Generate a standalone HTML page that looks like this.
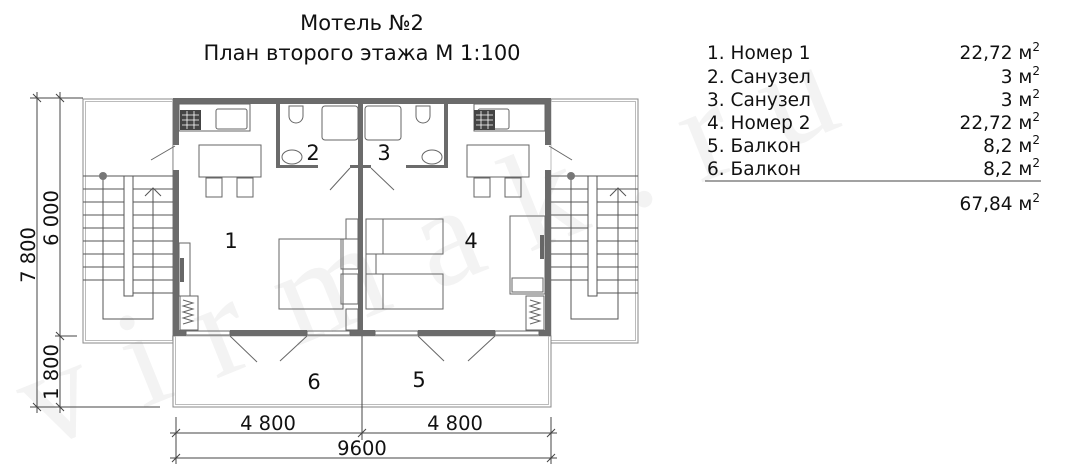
<!DOCTYPE html>
<html><head><meta charset="utf-8"><style>
html,body{margin:0;padding:0;background:#fff;width:1073px;height:476px;overflow:hidden}
svg{display:block}
text{font-family:"DejaVu Sans","Liberation Sans",sans-serif;fill:#111}
</style></head><body>
<svg width="1073" height="476" viewBox="0 0 1073 476" xmlns="http://www.w3.org/2000/svg">
<!-- watermark -->
<text x="40" y="450" font-size="140" style="fill:#f3f3f3;font-family:'Liberation Serif',serif" transform="rotate(-22 40 450)" letter-spacing="40">virmak.ru</text>

<!-- title -->
<text x="362" y="30" font-size="21" text-anchor="middle">Мотель №2</text>
<text x="362" y="60" font-size="21" text-anchor="middle">План второго этажа М 1:100</text>

<!-- table -->
<g font-size="18.5">
<text x="707" y="59">1. Номер 1</text><text x="1040" y="59" text-anchor="end">22,72 м<tspan dy="-8" font-size="12">2</tspan></text>
<text x="707" y="83">2. Санузел</text><text x="1040" y="83" text-anchor="end">3 м<tspan dy="-8" font-size="12">2</tspan></text>
<text x="707" y="106">3. Санузел</text><text x="1040" y="106" text-anchor="end">3 м<tspan dy="-8" font-size="12">2</tspan></text>
<text x="707" y="129">4. Номер 2</text><text x="1040" y="129" text-anchor="end">22,72 м<tspan dy="-8" font-size="12">2</tspan></text>
<text x="707" y="152">5. Балкон</text><text x="1040" y="152" text-anchor="end">8,2 м<tspan dy="-8" font-size="12">2</tspan></text>
<text x="707" y="175">6. Балкон</text><text x="1040" y="175" text-anchor="end">8,2 м<tspan dy="-8" font-size="12">2</tspan></text>
<line x1="705" y1="181" x2="1041" y2="181" stroke="#444" stroke-width="1"/>
<text x="1040" y="210" text-anchor="end">67,84 м<tspan dy="-8" font-size="12">2</tspan></text>
</g>

<g fill="none" stroke="#555" stroke-width="1">
<rect x="83" y="99" width="90" height="244" stroke="#888"/>
<rect x="85.5" y="101.5" width="87" height="239" stroke="#bbb"/>
<rect x="551" y="99" width="87" height="244" stroke="#888"/>
<rect x="551" y="101.5" width="84.5" height="239" stroke="#bbb"/>
<rect x="173" y="336" width="378" height="71" stroke="#888"/>
<rect x="175.5" y="336" width="373" height="68.5" stroke="#bbb"/>
</g>

<!-- stairs left -->
<g id="st">
<g stroke="#555" stroke-width="1" fill="none">
<path d="M83,176H124M133,176H173M83,189H124M133,189H173M83,202H124M133,202H173M83,215H124M133,215H173M83,228H124M133,228H173M83,241H124M133,241H173M83,254H124M133,254H173M83,267H124M133,267H173M83,280H124M133,280H173M133,293H173"/>
<rect x="124" y="176" width="9" height="120"/>
<polyline points="103,176 103,319 153,319 153,188"/>
<polyline points="145,196 153,188 161,196"/>
</g>
<circle cx="103" cy="176" r="4" fill="#777"/>
</g>
<g transform="translate(1189,0) scale(-1,1)">
<g stroke="#555" stroke-width="1" fill="none">
<path d="M551,176H592M601,176H638M551,189H592M601,189H638M551,202H592M601,202H638M551,215H592M601,215H638M551,228H592M601,228H638M551,241H592M601,241H638M551,254H592M601,254H638M551,267H592M601,267H638M551,280H592M601,280H638M551,293H592"/>
<rect x="592" y="176" width="9" height="120"/>
<polyline points="618,176 618,319 571,319 571,188"/>
<polyline points="563,196 571,188 579,196"/>
</g>
<circle cx="618" cy="176" r="4" fill="#777"/>
</g>

<!-- walls -->
<g fill="#6b6b6b">
<rect x="173" y="98" width="378" height="6"/>
<rect x="173" y="98" width="6" height="47"/>
<rect x="173" y="170" width="6" height="166"/>
<rect x="545" y="98" width="6" height="47"/>
<rect x="545" y="170" width="6" height="166"/>
<rect x="358" y="98" width="5" height="238"/>
<rect x="276" y="98" width="4" height="70"/>
<rect x="276" y="165" width="42" height="3"/>
<rect x="350" y="165" width="8" height="3"/>
<rect x="444" y="98" width="4" height="70"/>
<rect x="406" y="165" width="42" height="3"/>
<rect x="363" y="165" width="8" height="3"/>
<rect x="173" y="330" width="13" height="6"/>
<rect x="230" y="330" width="77" height="6"/>
<rect x="350" y="330" width="25" height="6"/>
<rect x="418" y="330" width="77" height="6"/>
<rect x="539" y="330" width="12" height="6"/>
</g>
<g fill="none" stroke="#666" stroke-width="1">
<rect x="186" y="331" width="44" height="4"/><rect x="307" y="331" width="43" height="4"/>
<rect x="375" y="331" width="43" height="4"/><rect x="495" y="331" width="44" height="4"/>
<line x1="230" y1="336" x2="257" y2="362"/><line x1="307" y1="336" x2="280" y2="361"/>
<line x1="418" y1="336" x2="444" y2="361"/><line x1="495" y1="336" x2="468" y2="361"/>
<line x1="175" y1="146" x2="151" y2="160"/><line x1="549" y1="146" x2="572" y2="160"/>
<line x1="350" y1="168" x2="330" y2="190"/><line x1="371" y1="168" x2="394" y2="190"/>
<rect x="179" y="104" width="71" height="27"/><rect x="216" y="109" width="31" height="20" rx="2"/>
<rect x="474" y="104" width="71" height="27"/><rect x="478" y="109" width="31" height="20" rx="2"/>
<rect x="199" y="145" width="62" height="32"/><rect x="206" y="178" width="16" height="19"/><rect x="237" y="178" width="16" height="19"/>
<rect x="467" y="145" width="62" height="32"/><rect x="474" y="178" width="16" height="19"/><rect x="505" y="178" width="16" height="19"/>
<path d="M289,106 h14 v10 a7,7 0 0 1 -14,0 z"/><rect x="322" y="106" width="36" height="34" rx="3"/>
<ellipse cx="292" cy="157" rx="10" ry="7"/>
<path d="M416,106 h14 v10 a7,7 0 0 1 -14,0 z"/><rect x="365" y="106" width="36" height="34" rx="3"/>
<ellipse cx="432" cy="157" rx="10" ry="7"/>
<rect x="279" y="239" width="64" height="70"/>
<rect x="341" y="239" width="17" height="30"/><rect x="341" y="274" width="17" height="30"/>
<rect x="346" y="219" width="12" height="20"/><rect x="346" y="309" width="12" height="21"/>
<rect x="366" y="219" width="77" height="35"/><rect x="366" y="219" width="17" height="35"/>
<rect x="366" y="274" width="77" height="35"/><rect x="366" y="274" width="17" height="35"/>
<rect x="366" y="254" width="10" height="20"/>
<rect x="179" y="243" width="11" height="53"/><rect x="180" y="296" width="18" height="34"/>
<polyline points="183,300 193,303 183,306 193,309 183,312 193,315 183,318 193,321 183,324"/>
<rect x="510" y="216" width="35" height="78"/><rect x="512" y="278" width="31" height="14"/>
<rect x="526" y="296" width="18" height="34"/>
<polyline points="530,300 540,303 530,306 540,309 530,312 540,315 530,318 540,321 530,324"/>
</g>
<g fill="#444"><rect x="180" y="110" width="21" height="20"/><rect x="474" y="110" width="21" height="20"/></g>
<g fill="none" stroke="#fff" stroke-width="0.8">
<path d="M182,115h17M182,120h17M182,125h17M187,111v18M194,111v18"/>
<path d="M476,115h17M476,120h17M476,125h17M481,111v18M488,111v18"/>
</g>
<g fill="#666"><rect x="180" y="258" width="4" height="24"/><rect x="540" y="235" width="4" height="24"/></g>

<g font-size="21">
<text x="231" y="248" text-anchor="middle">1</text>
<text x="313" y="160" text-anchor="middle">2</text>
<text x="384" y="160" text-anchor="middle">3</text>
<text x="471" y="248" text-anchor="middle">4</text>
<text x="419" y="387" text-anchor="middle">5</text>
<text x="314" y="389" text-anchor="middle">6</text>
</g>

<g stroke="#444" stroke-width="1" fill="none">
<line x1="30" y1="98" x2="83" y2="98"/>
<line x1="37" y1="92" x2="37" y2="413"/>
<line x1="60" y1="92" x2="60" y2="413"/>
<line x1="30" y1="407" x2="160" y2="407"/>
<line x1="55" y1="336" x2="77" y2="336"/>
<path d="M33,94l8,8M56,94l8,8M33,403l8,8M56,403l8,8M56,332l8,8"/>
<line x1="176" y1="417" x2="176" y2="464"/>
<line x1="551" y1="417" x2="551" y2="464"/>
<line x1="362" y1="336" x2="362" y2="440"/>
<line x1="170" y1="433" x2="557" y2="433"/>
<line x1="170" y1="458" x2="557" y2="458"/>
<path d="M172,437l8,-8M358,437l8,-8M547,437l8,-8M172,462l8,-8M547,462l8,-8"/>
</g>
<g font-size="19.5">
<text transform="translate(35,255) rotate(-90)" text-anchor="middle">7 800</text>
<text transform="translate(58,218) rotate(-90)" text-anchor="middle">6 000</text>
<text transform="translate(58,372) rotate(-90)" text-anchor="middle">1 800</text>
<text x="268" y="430" text-anchor="middle">4 800</text>
<text x="455" y="430" text-anchor="middle">4 800</text>
<text x="362" y="455" text-anchor="middle">9600</text>
</g>
</svg>
</body></html>
